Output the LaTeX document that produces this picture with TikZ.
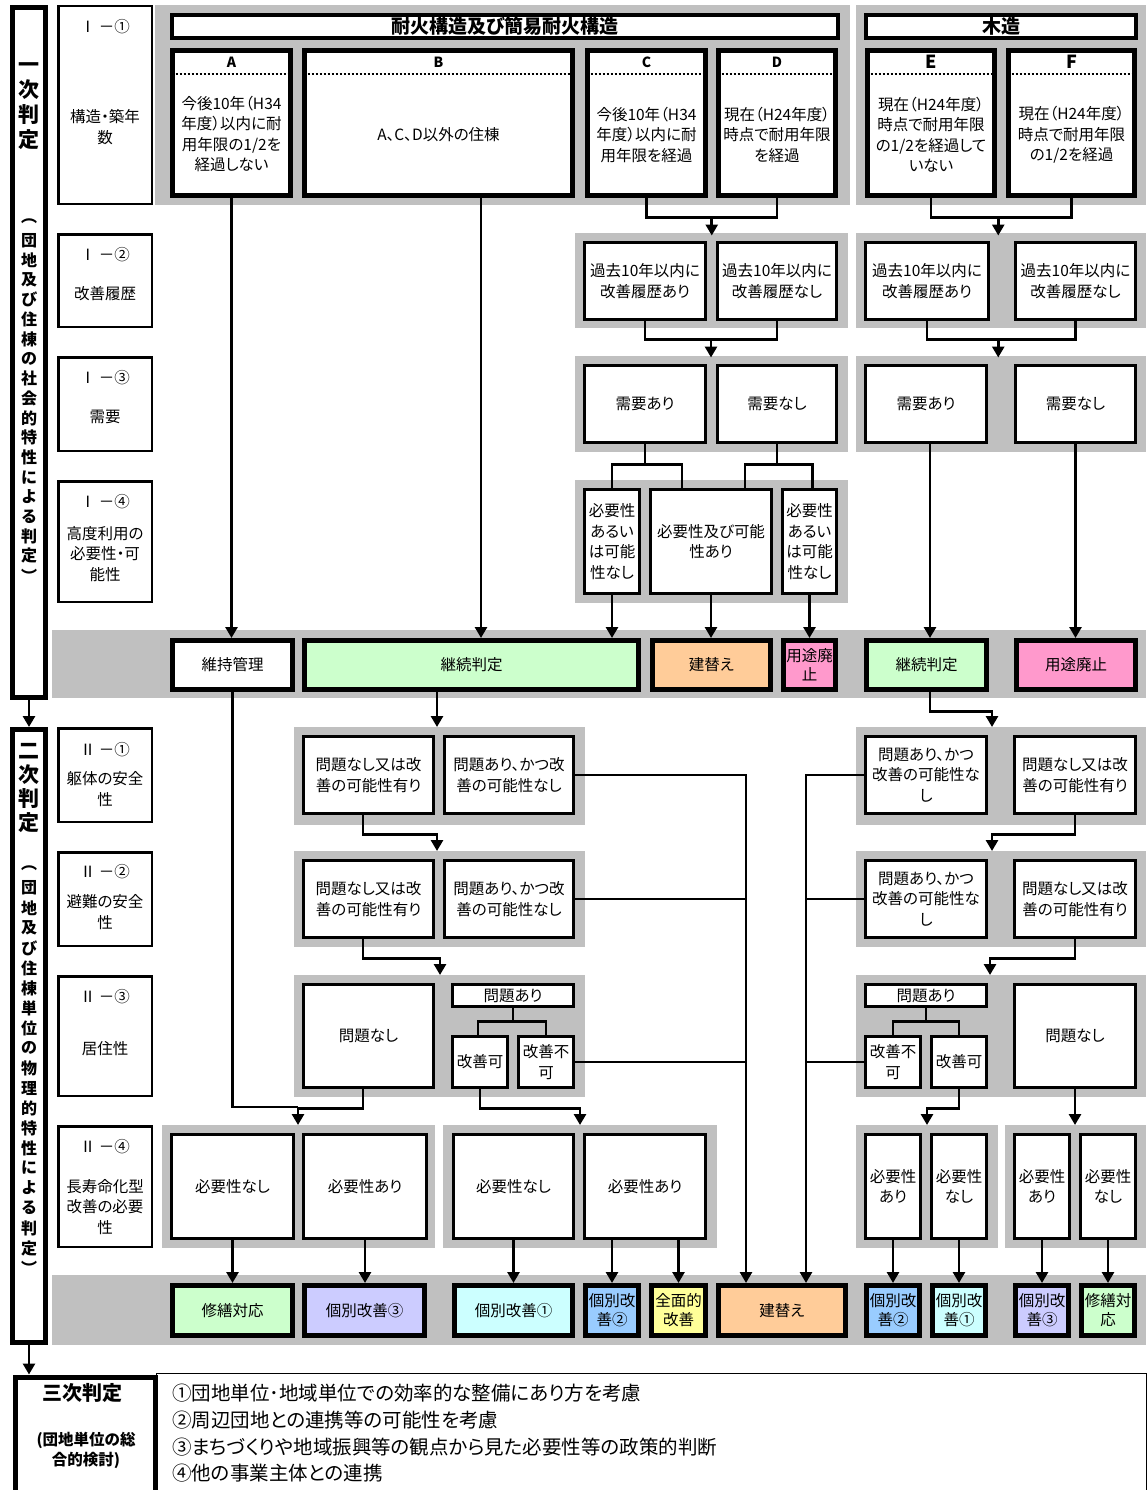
\documentclass[tikz,border=0pt]{standalone}
\usepackage{fontspec}
\setmainfont[RawFeature={+palt}]{Noto Sans CJK JP}
\usetikzlibrary{arrows.meta, positioning, calc}
\definecolor{panelgray}{RGB}{192,192,192}
\definecolor{resgreen}{RGB}{204,255,204}
\definecolor{resorange}{RGB}{255,204,153}
\definecolor{respink}{RGB}{255,153,204}
\definecolor{resviolet}{RGB}{204,204,255}
\definecolor{rescyan}{RGB}{204,255,255}
\definecolor{resblue}{RGB}{153,204,255}
\definecolor{resyellow}{RGB}{255,255,153}
\newcommand{\fbody}{\fontsize{15.5}{20.5}\selectfont}

\tikzset{
  wh/.style 2 args={minimum width=#1, minimum height=#2},
  txt/.style={inner sep=0pt, align=center, font=\fbody},
  crit/.style={draw, line width=2.5pt, fill=white, inner sep=0pt, minimum width=93.5pt},
  stage/.style={draw, line width=5pt, fill=white, inner sep=0pt},
  hdr/.style={draw, line width=4pt, fill=white, inner sep=0pt, minimum height=23pt,
    font=\bfseries\fontsize{19}{21}\selectfont},
  kind/.style={draw, line width=5pt, fill=white, inner sep=0pt, minimum height=145pt},
  letter/.style={inner sep=0pt, font=\bfseries\fontsize{14}{16}\selectfont},
  dotline/.style={line width=2pt, dash pattern=on 2pt off 2pt},
  opt/.style={draw, line width=3pt, fill=white, inner sep=0pt, align=center, font=\fbody},
  res/.style={draw, line width=5pt, inner sep=0pt, align=center, font=\fontsize{15.5}{19}\selectfont},
  vch/.style={inner sep=0pt, font=\bfseries\fontsize{16}{18}\selectfont},
  link/.style={line width=2.7pt},
  arr/.style={link, -{Triangle[length=11pt,width=12pt]}},
}

\begin{document}
\begin{tikzpicture}[x=1pt,y=-1pt]
    \useasboundingbox (0,0) rectangle (1146,1490);
    \fill[white] (0,0) rectangle (1146,1490);

    % Gray panels
    \foreach \xa/\ya/\xb/\yb in {155/5/850/205, 856/5/1146/205, 575/233/848/328, 856/233/1146/328,
        575/356/848/452, 856/356/1146/452, 575/480/848/603, 52/630/1146/698,
        294/727/585/825, 856/727/1146/825, 294/851/585/947, 856/851/1146/947,
        294/975/585/1097, 856/975/1146/1097, 162/1125/435/1248, 443/1125/717/1248,
        856/1125/998/1248, 1005/1125/1146/1248, 52/1275/1146/1345}
        \fill[panelgray] (\xa,\ya) rectangle (\xb,\yb);

    % Stage frames
    \node[stage, wh={33}{690}] (st1) at (29,352.5) {};
    \node[stage, wh={33}{613}] (st2) at (29,1036) {};
    \node[stage, wh={140}{130}, anchor=north west] (st3) at (12.5,1374.5) {};
    \node[draw, line width=1.2pt, inner sep=0pt, wh={990}{140}, anchor=north west] (notes) at (155.5,1372.5) {};

    \node[inner sep=0pt, align=center, font=\bfseries\fontsize{21}{25}\selectfont] (st1t) at (29,106) {一\\次\\判\\定};
    \foreach \ch [count=\i from 0] in {︵,団,地,及,び,住,棟,の,社,会,的,特,性,に,よ,る,判,定,︶}
        \node[vch] (va\i) at (29,{221+19.7*\i}) {\ch};
    \node[inner sep=0pt, align=center, font=\bfseries\fontsize{21}{24}\selectfont] (st2t) at (29,788) {二\\次\\判\\定};
    \foreach \ch [count=\i from 0] in {︵,団,地,及,び,住,棟,単,位,の,物,理,的,特,性,に,よ,る,判,定,︶}
        \node[vch] (vb\i) at (29,{868+20*\i}) {\ch};

    \node[inner sep=0pt, font=\bfseries\fontsize{20}{24}\selectfont] (st3t) at (82,1393) {三次判定};
    \node[inner sep=0pt, align=center, font=\bfseries\fontsize{15.5}{20}\selectfont] (st3s) at (86,1450) {(団地単位の総\\合的検討)};
    \node[anchor=north west, align=left, inner sep=0pt, font=\fontsize{19.5}{26.7}\selectfont] (notetxt) at (172,1384)
        {①団地単位･地域単位での効率的な整備にあり方を考慮\\②周辺団地との連携等の可能性を考慮\\③まちづくりや地域振興等の観点から見た必要性等の政策的判断\\④他の事業主体との連携};

    % Criteria column
    \node[crit, minimum height=197.5] (c11) at (105,105) {};
    \node[crit, minimum height=92.5] (c12) at (105,280.5) {};
    \node[crit, minimum height=93.5] (c13) at (105,404) {};
    \node[crit, minimum height=120.5] (c14) at (105,541.5) {};
    \node[crit, minimum height=93.5] (c21) at (105,775) {};
    \node[crit, minimum height=93.5] (c22) at (105,899) {};
    \node[crit, minimum height=119.5] (c23) at (105,1036) {};
    \node[crit, minimum height=120.5] (c24) at (105,1186.5) {};
    \foreach \y/\t [count=\i] in {27/Ⅰ －①, 255/Ⅰ －②, 378/Ⅰ －③, 502/Ⅰ －④,
        750/Ⅱ －①, 872/Ⅱ －②, 997/Ⅱ －③, 1147/Ⅱ －④}
        \node[txt] (lab\i) at (105,\y) {\t};
    \foreach \y/\t [count=\i] in {127/構造・築年\\数, 294/改善履歴, 417/需要, 554/高度利用の\\必要性・可\\能性,
        789/躯体の安全\\性, 912/避難の安全\\性, 1049/居住性, 1207/長寿命化型\\改善の必要\\性}
        \node[txt] (ct\i) at (105,\y) {\t};

    % I-1 structure / age
    \node[hdr, minimum width=666] (fire) at (505,26.5) {耐火構造及び簡易耐火構造};
    \node[hdr, minimum width=270] (wood) at (1001,26.5) {木造};
    \node[kind, minimum width=118] (A) at (231.5,123) {};
    \node[kind, minimum width=268] (B) at (438.5,123) {};
    \node[kind, minimum width=118] (C) at (646.5,123) {};
    \node[kind, minimum width=117] (D) at (777,123) {};
    \node[kind, minimum width=127] (E) at (931,123) {};
    \node[kind, minimum width=126] (F) at (1071.5,123) {};
    \foreach \k in {A,B,C,D}
        \node[letter] (\k l) at ($(\k.north)+(0,14)$) {\k};
    \foreach \k in {E,F}
        \node[letter, font=\bfseries\fontsize{18}{20}\selectfont] (\k l) at ($(\k.north)+(0,14)$) {\k};
    \foreach \k in {A,B,C,D,E,F}
        \draw[dotline] ($(\k.north west)+(1.5,26)$) -- ($(\k.north east)+(-1.5,26)$);
    \node[txt] (At) at (231.5,134) {今後10年（H34\\年度）以内に耐\\用年限の1/2を\\経過しない};
    \node[txt] (Bt) at (438.5,135) {A、C、D以外の住棟};
    \node[txt] (Ct) at (646.5,135) {今後10年（H34\\年度）以内に耐\\用年限を経過};
    \node[txt] (Dt) at (777,135) {現在（H24年度）\\時点で耐用年限\\を経過};
    \node[txt] (Et) at (931,135) {現在（H24年度）\\時点で耐用年限\\の1/2を経過して\\いない};
    \node[txt] (Ft) at (1071.5,135) {現在（H24年度）\\時点で耐用年限\\の1/2を経過};

    % I-2 history
    \node[opt, wh={121}{77}] (h1) at (645,281) {過去10年以内に\\改善履歴あり};
    \node[opt, wh={119}{77}] (h2) at (777,281) {過去10年以内に\\改善履歴なし};
    \node[opt, wh={123}{77}] (h3) at (927,281) {過去10年以内に\\改善履歴あり};
    \node[opt, wh={120}{77}] (h4) at (1075.5,281) {過去10年以内に\\改善履歴なし};

    % I-3 demand
    \node[opt, wh={121}{77}] (d1) at (645,404) {需要あり};
    \node[opt, wh={119}{77}] (d2) at (777,404) {需要なし};
    \node[opt, wh={121}{77}] (d3) at (926,404) {需要あり};
    \node[opt, wh={120}{77}] (d4) at (1075.5,404) {需要なし};

    % I-4 land use
    \node[opt, wh={55}{104}] (u1) at (612,541.5) {必要性\\あるい\\は可能\\性なし};
    \node[opt, wh={121}{104}] (u2) at (711,541.5) {必要性及び可能\\性あり};
    \node[opt, wh={54}{104}] (u3) at (809.5,541.5) {必要性\\あるい\\は可能\\性なし};

    % Results of stage I
    \node[res, fill=white, wh={120}{49}] (k1) at (232.5,665) {維持管理};
    \node[res, fill=resgreen, wh={334}{49}] (k2) at (471.5,665) {継続判定};
    \node[res, fill=resorange, wh={118}{49}] (k3) at (711.5,665) {建替え};
    \node[res, fill=respink, wh={52}{49}] (k4) at (809.5,665) {用途廃\\止};
    \node[res, fill=resgreen, wh={120}{49}] (k5) at (926.5,665) {継続判定};
    \node[res, fill=respink, wh={119}{49}] (k6) at (1076,665) {用途廃止};

    % II-1, II-2 safety
    \foreach \y/\s in {775/1, 899/2} {
        \node[opt, wh={130}{77}] (p\s) at (368.5,\y) {問題なし又は改\\善の可能性有り};
        \node[opt, wh={129}{77}] (q\s) at (509,\y) {問題あり、かつ改\\善の可能性なし};
        \node[opt, wh={121}{77}] (q\s r) at (926,\y) {問題あり、かつ\\改善の可能性な\\し};
        \node[opt, wh={121}{77}] (p\s r) at (1075,\y) {問題なし又は改\\善の可能性有り};
    }

    % II-3 habitability
    \node[opt, wh={130}{103}] (ok3) at (368.5,1036) {問題なし};
    \node[opt, wh={121}{22}] (ng3) at (513,995.5) {問題あり};
    \node[opt, wh={55}{51}] (fix3) at (480,1062) {改善可};
    \node[opt, wh={55}{51}] (nofix3) at (546,1062) {改善不\\可};
    \node[opt, wh={121}{22}] (ng3r) at (926,995.5) {問題あり};
    \node[opt, wh={55}{51}] (nofix3r) at (893,1062) {改善不\\可};
    \node[opt, wh={55}{51}] (fix3r) at (959,1062) {改善可};
    \node[opt, wh={121}{103}] (ok3r) at (1075,1036) {問題なし};

    % II-4 life extension
    \node[opt, wh={122}{104}] (n1) at (232.5,1186.5) {必要性なし};
    \node[opt, wh={123}{104}] (n2) at (365,1186.5) {必要性あり};
    \node[opt, wh={120}{104}] (n3) at (513.5,1186.5) {必要性なし};
    \node[opt, wh={121}{104}] (n4) at (645,1186.5) {必要性あり};
    \node[opt, wh={55}{104}] (n5) at (893,1186.5) {必要性\\あり};
    \node[opt, wh={55}{104}] (n6) at (959,1186.5) {必要性\\なし};
    \node[opt, wh={55}{104}] (n7) at (1042,1186.5) {必要性\\あり};
    \node[opt, wh={55}{104}] (n8) at (1108,1186.5) {必要性\\なし};

    % Results of stage II
    \node[res, fill=resgreen, wh={120}{50}] (m1) at (232.5,1310.5) {修繕対応};
    \node[res, fill=resviolet, wh={120}{50}] (m2) at (364.5,1310.5) {個別改善③};
    \node[res, fill=rescyan, wh={118}{50}] (m3) at (513.5,1310.5) {個別改善①};
    \node[res, fill=resblue, wh={53}{50}] (m4) at (612,1310.5) {個別改\\善②};
    \node[res, fill=resyellow, wh={54}{50}] (m5) at (678.5,1310.5) {全面的\\改善};
    \node[res, fill=resorange, wh={127}{50}] (m6) at (782,1310.5) {建替え};
    \node[res, fill=resblue, wh={53}{50}] (m7) at (893,1310.5) {個別改\\善②};
    \node[res, fill=rescyan, wh={53}{50}] (m8) at (959,1310.5) {個別改\\善①};
    \node[res, fill=resviolet, wh={53}{50}] (m9) at (1042,1310.5) {個別改\\善③};
    \node[res, fill=resgreen, wh={53}{50}] (m10) at (1108,1310.5) {修繕対\\応};

    % Stage arrows
    \draw[arr] (st1.south) -- (st2.north);
    \draw[arr] (st2.south) -- (st2.south |- st3.north);

    % Stage I connectors
    \draw[arr] (A.south) -- (A.south |- k1.north);
    \draw[arr] ([xshift=42.5]B.south) -- ([xshift=42.5]B.south |- k2.north);
    \coordinate (j1) at ($(C.south)!0.5!(D.south)+(0,19.5)$);
    \coordinate (j1e) at ($(j1)+(0,18)$);
    \draw[link] (C.south) |- (j1) -| (D.south);
    \draw[arr] (j1) -- (j1e);
    \coordinate (j2) at ($(E.south)!0.5!(F.south)+(-3,19.5)$);
    \coordinate (j2e) at ($(j2)+(0,18)$);
    \draw[link] (E.south) |- (j2) -| (F.south);
    \draw[arr] (j2) -- (j2e);
    \coordinate (j3) at ($(h1.south)!0.5!(h2.south)+(0,18.5)$);
    \coordinate (j3e) at ($(j3)+(0,18)$);
    \draw[link] (h1.south) |- (j3) -| (h2.south);
    \draw[arr] (j3) -- (j3e);
    \coordinate (j4) at ($(h3.south)!0.5!(h4.south)+(-3,18.5)$);
    \coordinate (j4e) at ($(j4)+(0,18)$);
    \draw[link] (h3.south) |- (j4) -| (h4.south);
    \draw[arr] (j4) -- (j4e);
    \coordinate (f1) at ($(d1.south)+(0,20.5)$);
    \draw[link] (d1.south) -- (f1);
    \draw[link] (u1.north) |- (f1) -| ([xshift=-29]u2.north);
    \coordinate (f2) at ($(d2.south)+(0,20.5)$);
    \draw[link] (d2.south) -- (f2);
    \draw[link] ([xshift=34]u2.north) |- (f2) -| ([xshift=3]u3.north);
    \draw[arr] (u1.south) -- (u1.south |- k2.north);
    \draw[arr] (u2.south) -- (u2.south |- k3.north);
    \draw[arr] (u3.south) -- (u3.south |- k4.north);
    \draw[arr] ([xshift=4]d3.south) -- ([xshift=4]d3.south |- k5.north);
    \draw[arr] (d4.south) -- (d4.south |- k6.north);

    % Stage II connectors, left
    \coordinate (g1) at (437,727);
    \coordinate (g2) at (437,851);
    \coordinate (g3) at (440,975);
    \coordinate (g4) at (298,1125);
    \coordinate (g5) at (580,1125);
    \coordinate (x1) at ($(m6.north)+(-36,0)$);
    \draw[arr] (g1 |- k2.south) -- (g1);
    \draw[arr] (q1.east) -| (x1);
    \draw[link] (q2.east) -- (q2.east -| x1);
    \draw[link] (nofix3.east) -- (nofix3.east -| x1);
    \draw[arr] ([xshift=-5.5]p1.south) -- ++(0,19.5) -| (g2);
    \draw[arr] ([xshift=-5.5]p2.south) -- ++(0,19.5) -| (g3);
    \coordinate (f3) at ($(ng3.south)+(0,13.5)$);
    \draw[link] (ng3.south) -- (f3);
    \draw[link] ([xshift=-2]fix3.north) |- (f3) -| (nofix3.north);
    \draw[arr] ([xshift=-5.5]ok3.south) -- ++(0,19.5) -| (g4);
    \draw[link] (k1.south) |- ($(g4)+(0,-18)$);
    \draw[arr] (fix3.south) -- ++(0,19.5) -| (g5);

    % Stage II connectors, right
    \coordinate (g6) at (992,727);
    \coordinate (g7) at (992,851);
    \coordinate (g8) at (990,975);
    \coordinate (g9) at (927,1125);
    \coordinate (g10) at (1075,1125);
    \coordinate (x2) at ($(m6.north)+(24,0)$);
    \draw[arr] ([xshift=3.5]k5.south) -- ++(0,19.5) -| (g6);
    \draw[arr] (q1r.west) -| (x2);
    \draw[link] (q2r.west) -- (q2r.west -| x2);
    \draw[link] (nofix3r.west) -- (nofix3r.west -| x2);
    \draw[arr] (p1r.south) -- ++(0,19.5) -| (g7);
    \draw[arr] (p2r.south) -- ++(0,19.5) -| (g8);
    \coordinate (f4) at ($(ng3r.south)+(0,13.5)$);
    \draw[link] (ng3r.south) -- (f4);
    \draw[link] (nofix3r.north) |- (f4) -| (fix3r.north);
    \draw[arr] (fix3r.south) -- ++(0,19.5) -| (g9);
    \draw[arr] (ok3r.south) -- (g10);

    % II-4 to results
    \foreach \a/\b in {n1/m1, n2/m2, n3/m3, n5/m7, n6/m8, n7/m9, n8/m10}
        \draw[arr] (\a.south) -- (\a.south |- \b.north);
    \draw[arr] (n4.south -| m4.north) -- (m4.north);
    \draw[arr] (n4.south -| m5.north) -- (m5.north);
\end{tikzpicture}
\end{document}
